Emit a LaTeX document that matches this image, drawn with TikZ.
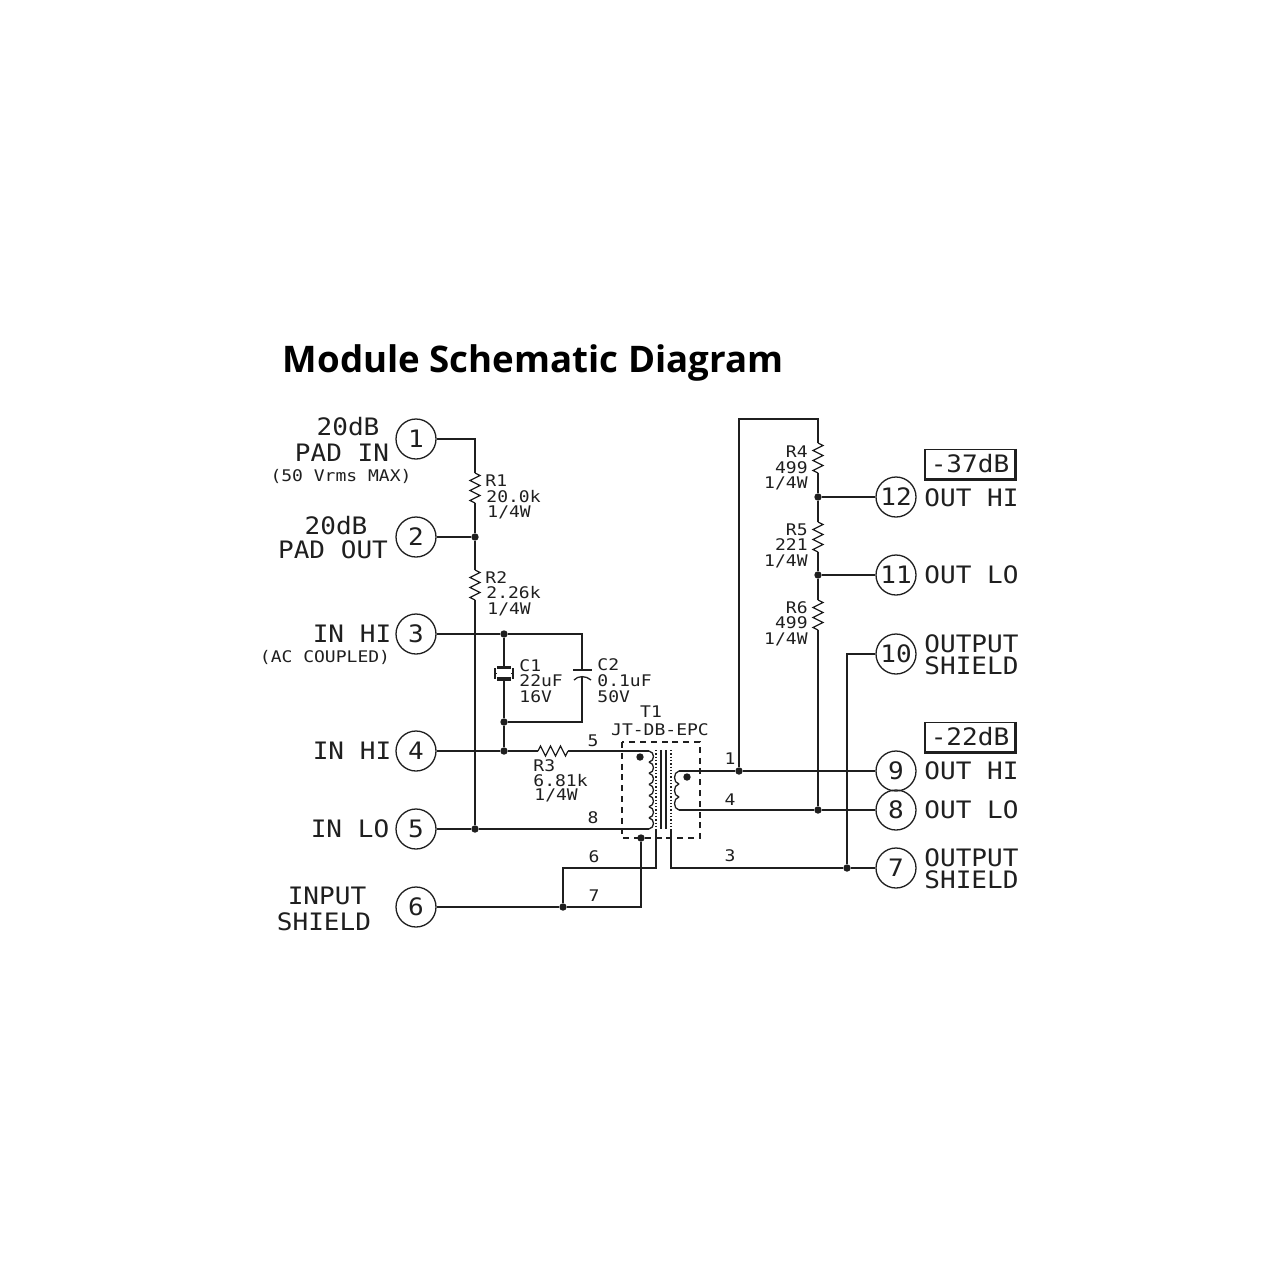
\documentclass[tikz,border=0pt]{standalone}
\usepackage{fontspec}
\setmainfont{Open Sans}
\newfontfamily\schembig[FakeStretch=1.085]{DejaVu Sans Mono}
\newfontfamily\schemsmall[FakeStretch=1.126]{DejaVu Sans Mono}
\colorlet{ink}{black!88}
\tikzset{
  wire/.style={draw=ink,line width=0.65pt,line join=miter},
  term/.style={circle,draw=ink,line width=0.65pt,minimum size=20pt,inner sep=0pt,font=\schembig\fontsize{12}{12}\selectfont,text=ink,text height=8.8pt,text depth=0pt},
  big/.style={inner sep=0pt,font=\schembig\fontsize{12}{12}\selectfont,text=ink,text height=8.8pt,text depth=0pt},
  small/.style={inner sep=0pt,font=\schemsmall\fontsize{8}{8}\selectfont,text=ink,text height=5.9pt,text depth=0pt},
  dot/.style={circle,fill=ink,draw=none,minimum size=3.7pt,inner sep=0pt},
  dbox/.style={draw=ink,line width=0.65pt,inner sep=0pt,minimum width=45pt,minimum height=14.5pt,font=\schembig\fontsize{12}{12}\selectfont,text=ink},
}
\newcommand{\zigv}[1]{\draw[wire] (#1) -- ++(5,2.5) -- ++(-10,5) -- ++(10,5) -- ++(-10,5) -- ++(10,5) -- ++(-10,5) -- ++(5,2.5);}
\newcommand{\zigh}[1]{\draw[wire] (#1) -- ++(2.5,-5) -- ++(5,10) -- ++(5,-10) -- ++(5,10) -- ++(5,-10) -- ++(5,10) -- ++(2.5,-5);}
\begin{document}
\begin{tikzpicture}[x=0.5pt,y=-0.5pt]
\useasboundingbox[fill=white] (0,0) rectangle (1280,1280);
\node[anchor=west,inner sep=0pt,font=\bfseries\fontsize{18.33}{18.33}\selectfont] (title) at (282.5,363) {Module Schematic Diagram};
% terminals
\node[term] (t1) at (416,439) {1};
\node[term] (t2) at (416,537) {2};
\node[term] (t3) at (416,634) {3};
\node[term] (t4) at (416,751) {4};
\node[term] (t5) at (416,829) {5};
\node[term] (t6) at (416,907) {6};
\node[term] (t12) at (896,497) {12};
\node[term] (t11) at (896,575) {11};
\node[term] (t10) at (896,654) {10};
\node[term] (t9) at (896,771) {9};
\node[term] (t8) at (896,810) {8};
\node[term] (t7) at (896,868) {7};
% junctions
\node[dot] (j2) at (475,537) {};
\node[dot] (j3) at (504,634) {};
\node[dot] (jc) at (504,722) {};
\node[dot] (j4) at (504,751) {};
\node[dot] (j5) at (475,829) {};
\node[dot] (j6) at (563,907) {};
\node[dot] (js) at (641,838) {};
\node[dot] (j12) at (818,497) {};
\node[dot] (j11) at (818,575) {};
\node[dot] (j8) at (818,810) {};
\node[dot] (j7) at (847,868) {};
\node[dot] (j9) at (739,771) {};
\node[dot] (ph1) at (640,757) {};
\node[dot] (ph2) at (687,777) {};
% end points
\coordinate (r1a) at (475,473); \coordinate (r1b) at (475,503);
\coordinate (r2a) at (475,570); \coordinate (r2b) at (475,600);
\coordinate (r4a) at (818,443); \coordinate (r4b) at (818,473);
\coordinate (r5a) at (818,522); \coordinate (r5b) at (818,552);
\coordinate (r6a) at (818,600); \coordinate (r6b) at (818,630);
\coordinate (r3a) at (538,751); \coordinate (r3b) at (568,751);
\coordinate (top) at (739,419); \coordinate (topr) at (818,419);
\coordinate (c1a) at (504,667); \coordinate (c1b) at (504,679);
\coordinate (c2a) at (582,670); \coordinate (c2b) at (582,676);
\coordinate (c2c) at (582,722); \coordinate (c2t) at (582,634);
\coordinate (pa) at (649,751); \coordinate (pb) at (649,829);
\coordinate (sa) at (679,771); \coordinate (sb) at (679,810);
\coordinate (sh1) at (656,829); \coordinate (sh1b) at (656,868); \coordinate (sh1c) at (563,868);
\coordinate (sh2) at (671,829); \coordinate (sh2b) at (671,868);
\coordinate (t10a) at (847,654);
% resistors
\zigv{r1a}\zigv{r2a}\zigv{r4a}\zigv{r5a}\zigv{r6a}\zigh{r3a}
% wires
\draw[wire] (t1) -| (r1a);
\draw[wire] (r1b) -- (j2) -- (r2a);
\draw[wire] (t2) -- (j2);
\draw[wire] (r2b) -- (j5);
\draw[wire] (t5) -- (j5) -- (pb);
\draw[wire] (t3) -- (j3) -- (c2t) -- (c2a);
\draw[wire] (c2b) -- (c2c) -- (jc);
\draw[wire] (j3) -- (c1a);
\draw[wire] (c1b) -- (jc) -- (j4);
\draw[wire] (t4) -- (j4) -- (r3a);
\draw[wire] (r3b) -- (pa);
\draw[wire] (j6) -- (sh1c) -- (sh1b) -- (sh1);
\draw[wire] (t6) -- (j6) -| (js);
\draw[wire] (sh2) -- (sh2b) -- (j7) -- (t7);
\draw[wire] (sa) -- (j9) -- (t9);
\draw[wire] (sb) -- (j8) -- (t8);
\draw[wire] (j9) -- (top) -- (topr) -- (r4a);
\draw[wire] (r4b) -- (j12) -- (r5a);
\draw[wire] (r5b) -- (j11) -- (r6a);
\draw[wire] (r6b) -- (j8);
\draw[wire] (j12) -- (t12);
\draw[wire] (j11) -- (t11);
\draw[wire] (t10) -- (t10a) -- (j7);
% C1
\fill[ink] (497,665.5) rectangle (511,669);
\fill[ink] (497,677) rectangle (511,680.5);
\draw[wire] (495,668) -- (495,679) (513,668) -- (513,679) (495,673.5) -- (513,673.5);
\fill[white] (497,670.5) rectangle (511,676);
% C2
\draw[wire] (573,670) -- (592,670);
\draw[wire] (574,680) .. controls (578,675.5) and (586,675.5) .. (591,680);
% transformer
\foreach \i in {0,...,6}{
  \pgfmathsetmacro{\ya}{751+\i*11.14}
  \pgfmathsetmacro{\yb}{\ya+11.14}
  \draw[wire] (649,\ya) .. controls (655,\ya+1) and (655,\yb-1) .. (649,\yb);
}
\foreach \i in {0,1,2}{
  \pgfmathsetmacro{\ya}{771+\i*13}
  \pgfmathsetmacro{\yb}{\ya+13}
  \draw[wire] (679,\ya) .. controls (673,\ya+1) and (673,\yb-1) .. (679,\yb);
}
\draw[wire] (661,750) -- (661,829) (666,750) -- (666,829);
\draw[wire,densely dotted] (656,750) -- (656,829) (671,750) -- (671,829);
\draw[wire,dash pattern=on 3pt off 2.4pt] (622,742) rectangle (700,838);
% dB boxes
\node[dbox] (d37) at (970,464) {-37dB};
\draw[ink,line width=1.5pt] (d37.north east) -- (d37.south east) -- (d37.south west);
\node[dbox] (d22) at (970,737) {-22dB};
\draw[ink,line width=1.5pt] (d22.north east) -- (d22.south east) -- (d22.south west);
% left labels
\node[big] (l1) at (348,427) {20dB};
\node[big] (l2) at (342,453) {PAD IN};
\node[small] (l3) at (341,476) {(50 Vrms MAX)};
\node[big] (l4) at (336,526) {20dB};
\node[big] (l5) at (333,550) {PAD OUT};
\node[big] (l6) at (352,634) {IN HI};
\node[small] (l7) at (325,657) {(AC COUPLED)};
\node[big] (l8) at (352,751) {IN HI};
\node[big] (l9) at (350,829) {IN LO};
\node[big] (l10) at (327,896) {INPUT};
\node[big] (l11) at (324,922) {SHIELD};
% right labels
\node[big,anchor=west] (l12) at (924,498) {OUT HI};
\node[big,anchor=west] (l13) at (924,575) {OUT LO};
\node[big,anchor=west] (l14) at (924,644) {OUTPUT};
\node[big,anchor=west] (l15) at (924,666) {SHIELD};
\node[big,anchor=west] (l16) at (924,771) {OUT HI};
\node[big,anchor=west] (l17) at (924,810) {OUT LO};
\node[big,anchor=west] (l18) at (924,858) {OUTPUT};
\node[big,anchor=west] (l19) at (924,880) {SHIELD};
% part labels
\node[small,anchor=west] (a1) at (485,481) {R1};
\node[small,anchor=west] (a2) at (486,497) {20.0k};
\node[small,anchor=west] (a3) at (487,512) {1/4W};
\node[small,anchor=west] (a4) at (485,578) {R2};
\node[small,anchor=west] (a5) at (486,593) {2.26k};
\node[small,anchor=west] (a6) at (487,609) {1/4W};
\node[small,anchor=east] (b1) at (808,452) {R4};
\node[small,anchor=east] (b2) at (808,468) {499};
\node[small,anchor=east] (b3) at (808,483) {1/4W};
\node[small,anchor=east] (b4) at (808,530) {R5};
\node[small,anchor=east] (b5) at (808,545) {221};
\node[small,anchor=east] (b6) at (808,561) {1/4W};
\node[small,anchor=east] (b7) at (808,608) {R6};
\node[small,anchor=east] (b8) at (808,623) {499};
\node[small,anchor=east] (b9) at (808,639) {1/4W};
\node[small,anchor=west] (c1) at (519,666) {C1};
\node[small,anchor=west] (c2) at (519,681) {22uF};
\node[small,anchor=west] (c3) at (519,697) {16V};
\node[small,anchor=west] (c4) at (597,665) {C2};
\node[small,anchor=west] (c5) at (597,681) {0.1uF};
\node[small,anchor=west] (c6) at (597,697) {50V};
\node[small] (e1) at (651,712) {T1};
\node[small] (e2) at (660,730) {JT-DB-EPC};
\node[small,anchor=west] (e3) at (533,766) {R3};
\node[small,anchor=west] (e4) at (533,781) {6.81k};
\node[small,anchor=west] (e5) at (534,795) {1/4W};
\node[small] (n5) at (593,741) {5};
\node[small] (n8) at (593,818) {8};
\node[small] (n6) at (594,857) {6};
\node[small] (n7) at (594,896) {7};
\node[small] (n1) at (730,759) {1};
\node[small] (n4) at (730,800) {4};
\node[small] (n3) at (730,856) {3};
\end{tikzpicture}
\end{document}
